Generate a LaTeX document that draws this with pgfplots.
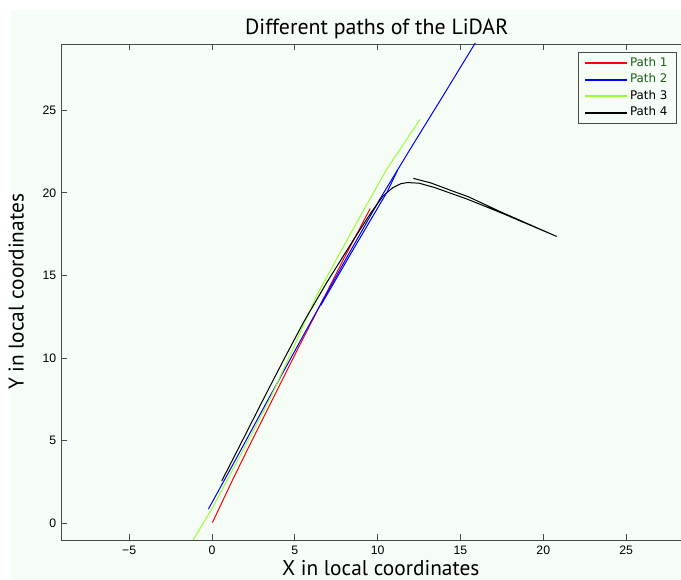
\documentclass[border=0pt]{standalone}
\usepackage{pgfplots}
\pgfplotsset{compat=1.18}
\usepackage{fontspec}
\setmainfont{Liberation Sans}
\newfontfamily\labelfont{PT Sans}
\newfontfamily\legfont{DejaVu Sans}
% dark green legend text, coloured by the font itself
\newfontfamily\leggreenfont[Color=1F5F1F]{DejaVu Sans}
\definecolor{bgmint}{HTML}{F6FCF6}
\definecolor{axgray}{HTML}{4A4A4A}
\definecolor{pathred}{HTML}{FF0000}
\definecolor{pathblue}{HTML}{0000FF}
\definecolor{pathgreen}{HTML}{99FF33}
\definecolor{pathblack}{HTML}{000000}
% legend samples: thin filled bars in the colour of each path
\pgfplotsset{
  lidarlegend/.style={
    legend image code/.code={\fill[fill=#1] (0pt,-0.4pt) rectangle (31pt,0.4pt);}
  }
}

\begin{document}
\begin{tikzpicture}
% figure background
\fill[white] (-45.75pt,-30pt) rectangle (465pt,405pt);
\fill[bgmint] (-37.5pt,-30pt) rectangle (465pt,397.5pt);
\begin{axis}[
  scale only axis, width=473.5pt, height=372pt,
  xmin=-9.12, xmax=29.0, ymin=-1, ymax=29,
  axis background/.style={fill=bgmint},
  axis line style={axgray, line width=0.7pt},
  tick align=inside, major tick length=4.5pt,
  every tick/.style={axgray, line width=0.6pt},
  xtick={-5,0,5,10,15,20,25},
  xticklabels={−5,0,5,10,15,20,25},
  ytick={0,5,10,15,20,25},
  yticklabels={0,5,10,15,20,25},
  ticklabel style={font=\fontsize{9.2}{11}\selectfont},
  xticklabel style={yshift=-1pt},
  title={Different paths of the LiDAR},
  every axis title/.style={at={(axis description cs:0.5,1)}, anchor=base, yshift=6.75pt,
    font=\labelfont\fontsize{16.4}{19}\selectfont},
  xlabel={X in local coordinates},
  ylabel={Y in local coordinates},
  every axis x label/.style={at={(axis description cs:0.5,0)}, anchor=base, yshift=-27pt, xshift=3pt,
    font=\labelfont\fontsize{16}{19}\selectfont},
  every axis y label/.style={at={(axis description cs:-0.059,0.5)}, anchor=base, rotate=90,
    font=\labelfont\fontsize{16}{19}\selectfont},
  legend cell align=left,
  legend style={at={(axis description cs:0.8189,0.9839)}, anchor=north west,
    draw=axgray, line width=0.6pt, fill=bgmint, inner xsep=5pt, inner ysep=4pt,
    font=\legfont\fontsize{8.9}{10}\selectfont, row sep=4.1pt,
    nodes={inner xsep=2pt, inner ysep=0pt, text height=6.5pt, text depth=1.8pt}},
  every axis plot/.append style={line width=0.75pt},
]
% Path 1
\addplot[draw=pathred, lidarlegend=pathred] coordinates {
  (0.02,0.05) (1.2,2.55) (2.4,5.0) (3.7,7.6) (5.2,10.6) (6.5,13.15) (8.0,16.1) (9.55,19.05)};
\addlegendentry{\leggreenfont Path 1}
% Path 2
\addplot[draw=pathblue, lidarlegend=pathblue] coordinates {
  (-0.22,0.87) (1.5,4.0) (3.4,7.52) (5.72,11.75) (8.0,15.85) (10.14,19.63)
  (12.0,22.7) (14.0,25.95) (16.1,29.4)};
\addlegendentry{\leggreenfont Path 2}
% Path 3
\addplot[draw=pathgreen, lidarlegend=pathgreen] coordinates {
  (-1.2,-1.1) (-0.02,0.87) (1.7,4.1) (3.5,7.55) (4.9,10.6) (6.3,13.75)
  (8.4,17.6) (10.55,21.43) (11.6,23.0) (12.56,24.45)};
\addlegendentry{Path 3}
% Path 4
\addplot[draw=pathblack, lidarlegend=pathblack] coordinates {
  (0.59,2.58) (1.8,4.95) (3.1,7.52) (4.3,9.85) (5.52,12.16) (6.93,14.58)
  (8.6,17.25) (9.6,18.8) (10.34,19.82) (10.9,20.3) (11.4,20.55) (11.8,20.62)
  (12.5,20.58) (13.4,20.33) (15.4,19.62) (17.4,18.81) (20.81,17.36)
  (17.4,18.86) (15.5,19.75) (14.4,20.15) (13.2,20.6) (12.16,20.87)};
\addlegendentry{Path 4}
% second pass of Path 2
\addplot[draw=pathblue, forget plot] coordinates {
  (6.55,13.16) (8.6,16.7) (10.6,20.1) (11.2,21.37)};
\end{axis}
\pgfresetboundingbox
\useasboundingbox (-45.75pt,-30pt) rectangle (465pt,405pt);
\end{tikzpicture}
\end{document}
